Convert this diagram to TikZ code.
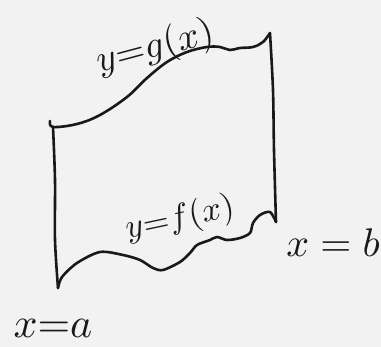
\documentclass[tikz,border=0pt]{standalone}
\usepackage{tikz}
\begin{document}
\begin{tikzpicture}[x=1pt,y=-1pt,
  ink/.style={draw=black!90, line width=2.6pt, line cap=round, line join=round},
  lbl/.style={text=black!90, inner sep=0pt, transform shape}]
\fill[black!5] (0,0) rectangle (381,347);
\useasboundingbox (0,0) rectangle (381,347);
% top curve g
\draw[ink] plot[smooth, tension=0.6] coordinates {(50,121) (53,127) (77,124) (100,115) (127,97) (147,78) (167,62) (187,52) (207,47) (220,47) (230,50) (240,48) (253,47) (263,42) (270,33)};
% right line
\draw[ink] plot[smooth, tension=0.5] coordinates {(270,33) (273,90) (274,150) (276,222)};
% left line
\draw[ink] plot[smooth, tension=0.5] coordinates {(53,127) (55,180) (55,240) (58,288)};
% bottom curve f
\draw[ink] plot[smooth, tension=0.5] coordinates {(58,288) (62,277) (77,263) (100,252) (123,255) (140,260) (153,268) (163,270) (180,262) (190,253) (197,245) (210,240) (217,237) (227,240) (240,238) (250,233) (253,223) (260,215) (270,212) (276,222)};
% labels
\node[lbl, scale=3.8, rotate=15] (g) at (155,48) {$y{=}g(x)$};
\node[lbl, scale=3.4, rotate=12] (f) at (180,219) {$y{=}f(x)$};
\node[lbl, scale=4.0] (b) at (333,243) {$x = b$};
\node[lbl, scale=4.2] (a) at (53,328) {$x{=}a$};
\end{tikzpicture}
\end{document}
